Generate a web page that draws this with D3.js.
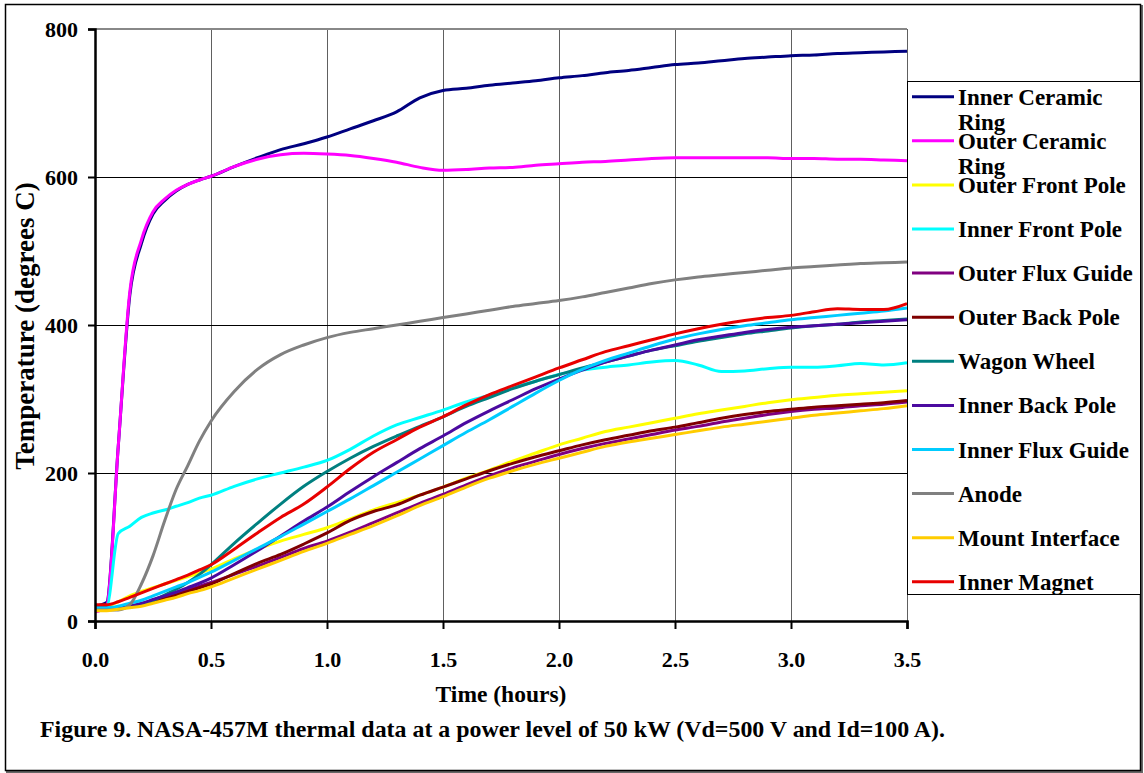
<!DOCTYPE html>
<html>
<head>
<meta charset="utf-8">
<script src="https://cdn.jsdelivr.net/npm/d3@7"></script>
<style>
  html, body { margin: 0; padding: 0; background: #fff; }
  svg { display: block; }
  text { font-family: "Liberation Serif", "Times New Roman", serif; font-weight: bold; fill: #000; }
</style>
</head>
<body>
<svg id="chart" width="1144" height="773"></svg>
<script>
// ---------- DATA ----------
const hours = [0,0.05,0.1,0.15,0.2,0.25,0.3,0.35,0.4,0.45,0.5,
  0.6,0.7,0.8,0.9,1.0,1.1,1.2,1.3,1.4,1.5,1.6,1.7,1.8,1.9,2.0,
  2.1,2.2,2.3,2.4,2.5,2.6,2.7,2.8,2.9,3.0,3.1,3.2,3.3,3.4,3.5];

const seriesNames = ["Inner Ceramic Ring","Outer Ceramic Ring","Outer Front Pole","Inner Front Pole",
  "Outer Flux Guide","Outer Back Pole","Wagon Wheel","Inner Back Pole","Inner Flux Guide",
  "Anode","Mount Interface","Inner Magnet"];

const innerCeramicRing = [20,25,235,440,510,550,568,581,590,596,601,
  614,626,637,645,654,665,676,688,707,717,720,724,727,730,734,
  737,741,744,748,752,754,757,760,762,764,765,767,768,769,770];
const outerCeramicRing = [12,20,235,445,515,553,570,582,590,596,601,
  614,624,630,632,631,629,625,620,613,609,610,612,613,616,618,
  620,621,623,625,626,626,626,626,626,625,625,624,624,623,622];
const outerFrontPole = [20,20,26,34,40,45,50,55,60,65,70,
  84,97,108,117,126,138,150,160,170,181,193,204,216,227,238,
  247,256,262,268,274,280,285,290,295,299,302,305,307,309,311];
const innerFrontPole = [20,20,118,128,140,146,150,155,160,166,170,
  182,192,200,208,217,232,250,265,275,285,296,305,315,324,333,
  339,343,346,350,352,346,337,338,341,343,343,345,348,346,349];
const outerFluxGuide = [16,16,17,19,22,27,32,37,42,47,52,
  63,74,86,98,108,120,133,146,159,171,184,196,207,216,225,
  233,240,246,252,258,263,269,274,279,283,286,288,291,293,296];
const outerBackPole = [18,18,18,20,22,26,30,35,40,45,50,
  64,78,90,104,119,136,148,157,170,181,192,203,213,222,230,
  238,245,251,257,262,268,274,279,283,286,289,291,293,295,298];
const wagonWheel = [18,18,18,19,22,28,35,43,52,63,76,
  105,132,158,182,202,220,236,250,263,276,290,302,314,324,333,
  342,350,358,366,372,378,383,388,392,396,399,401,404,406,408];
const innerBackPole = [18,18,18,20,24,29,34,39,45,51,58,
  76,95,115,135,154,175,195,214,233,250,268,284,299,314,327,
  339,350,358,366,373,380,385,390,394,397,399,401,403,405,407];
const innerFluxGuide = [18,18,20,24,28,34,40,46,52,59,66,
  82,98,114,131,148,165,183,201,219,237,255,272,290,308,325,
  340,352,362,372,381,388,394,399,403,407,410,413,416,419,423];
const anode = [15,15,15,22,50,88,135,178,210,243,270,
  310,340,360,373,383,390,395,400,405,410,415,420,425,429,433,
  438,444,450,456,461,465,468,471,474,477,479,481,483,484,485];
const mountInterface = [14,14,16,18,20,24,28,32,37,41,46,
  58,70,82,94,105,117,129,142,156,168,181,193,203,212,220,
  228,236,242,247,252,257,262,266,270,274,278,281,284,287,291];
const innerMagnet = [22,22,26,32,38,44,50,56,62,69,76,
  97,119,140,158,181,206,228,245,262,276,292,306,318,330,342,
  353,364,372,380,388,395,401,406,410,413,418,422,421,421,429];

const seriesValues = [innerCeramicRing, outerCeramicRing, outerFrontPole, innerFrontPole,
  outerFluxGuide, outerBackPole, wagonWheel, innerBackPole, innerFluxGuide,
  anode, mountInterface, innerMagnet];

const seriesColors = ["#000080","#FF00FF","#FFFF00","#00FFFF","#800080","#800000",
  "#008080","#4B0AA0","#00CCFF","#808080","#FFCC00","#E80000"];

const xTicks = [0,0.5,1.0,1.5,2.0,2.5,3.0,3.5];
const yTicks = [0,200,400,600,800];
const xTitle = "Time (hours)";
const yTitle = "Temperature (degrees C)";
const caption = "Figure 9.  NASA-457M thermal data at a power level of 50 kW (Vd=500 V and Id=100 A).";

// ---------- LAYOUT ----------
const svg = d3.select("#chart");
const pLeft = 95, pRight = 907, pTop = 29, pBottom = 621;
const x = d3.scaleLinear().domain([0, 3.5]).range([pLeft, pRight]);
const y = d3.scaleLinear().domain([0, 800]).range([pBottom, pTop]);

// outer frame
svg.append("rect").attr("x", 7).attr("y", 6).attr("width", 1135).attr("height", 766)
  .attr("fill", "none").attr("stroke", "#666").attr("stroke-width", 2);
svg.append("rect").attr("x", 5.5).attr("y", 4.5).attr("width", 1135).attr("height", 766)
  .attr("fill", "#fff").attr("stroke", "#000").attr("stroke-width", 1.5);

// grid
const grid = svg.append("g");
grid.selectAll("line.v").data(xTicks.slice(1)).join("line")
  .attr("x1", d => x(d) + 0.5).attr("x2", d => x(d) + 0.5).attr("y1", pTop).attr("y2", pBottom)
  .attr("stroke", "#606060").attr("stroke-width", 1);
grid.selectAll("line.h").data(yTicks.slice(1, -1)).join("line")
  .attr("x1", pLeft).attr("x2", pRight).attr("y1", d => y(d) + 0.5).attr("y2", d => y(d) + 0.5)
  .attr("stroke", "#000").attr("stroke-width", 1);
grid.append("line").attr("x1", pLeft).attr("x2", pRight).attr("y1", pTop).attr("y2", pTop)
  .attr("stroke", "#888").attr("stroke-width", 2);

// lines
const line = d3.line().x((d, i) => x(hours[i])).y(d => y(d)).curve(d3.curveMonotoneX);
svg.append("g").selectAll("path").data(seriesValues).join("path")
  .attr("d", d => line(d)).attr("fill", "none")
  .attr("stroke", (d, i) => seriesColors[i]).attr("stroke-width", 3)
  .attr("stroke-linejoin", "round");

// axes
const yAxis = d3.axisLeft(y).tickValues(yTicks).tickSize(7).tickPadding(10).tickFormat(d3.format("d"));
const gy = svg.append("g").attr("transform", `translate(${pLeft},0)`).call(yAxis);
gy.select(".domain").attr("stroke", "#000").attr("stroke-width", 2.5);
gy.selectAll(".tick line").attr("stroke", "#000").attr("stroke-width", 2);
gy.selectAll(".tick text").style("font-size", "22px").style("font-family", "Liberation Serif")
  .style("font-weight", "bold").attr("dy", "0.34em");

const xAxis = d3.axisBottom(x).tickValues(xTicks).tickSize(8).tickPadding(22).tickFormat(d3.format(".1f"));
const gx = svg.append("g").attr("transform", `translate(0,${pBottom})`).call(xAxis);
gx.select(".domain").attr("stroke", "#000").attr("stroke-width", 2.5);
gx.selectAll(".tick line").attr("stroke", "#000").attr("stroke-width", 2);
gx.selectAll(".tick text").style("font-size", "22px").style("font-family", "Liberation Serif")
  .style("font-weight", "bold");

// titles
svg.append("text").attr("x", 501).attr("y", 702).attr("text-anchor", "middle")
  .style("font-size", "23.5px").text(xTitle);
svg.append("text").attr("transform", "translate(34,326) rotate(-90)").attr("text-anchor", "middle")
  .style("font-size", "27px").text(yTitle);
svg.append("text").attr("x", 40).attr("y", 737)
  .attr("textLength", 905).attr("lengthAdjust", "spacingAndGlyphs")
  .style("font-size", "23px").text(caption);

// legend
const lg = svg.append("g");
lg.append("rect").attr("x", 907.5).attr("y", 81.5).attr("width", 233).attr("height", 513)
  .attr("fill", "#fff").attr("stroke", "#000").attr("stroke-width", 1);
const legY0 = 96.7, legStep = 44.1;
seriesNames.forEach((name, i) => {
  const ly = legY0 + i * legStep;
  lg.append("line").attr("x1", 912).attr("x2", 954).attr("y1", ly).attr("y2", ly)
    .attr("stroke", seriesColors[i]).attr("stroke-width", 3);
  const t = lg.append("text").attr("x", 958).attr("y", ly + 8).style("font-size", "23px");
  const words = name.split(" ");
  let lineWords = [];
  let ts = t.append("tspan").attr("x", 958).attr("dy", 0);
  words.forEach(w => {
    lineWords.push(w);
    ts.text(lineWords.join(" "));
    if (ts.node().getComputedTextLength() > 180 && lineWords.length > 1) {
      lineWords.pop();
      ts.text(lineWords.join(" "));
      lineWords = [w];
      ts = t.append("tspan").attr("x", 958).attr("dy", 25).text(w);
    }
  });
});
</script>
</body>
</html>
